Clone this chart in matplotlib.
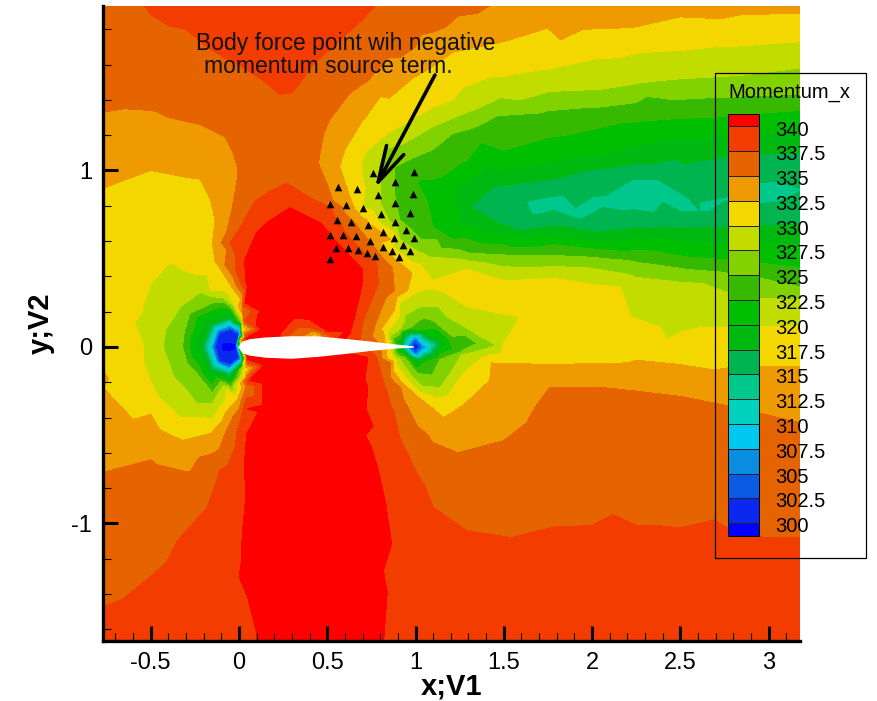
import numpy as np
import matplotlib
matplotlib.use("Agg")
import matplotlib.pyplot as plt
import matplotlib.tri as mtri
from matplotlib.colors import ListedColormap, BoundaryNorm
from matplotlib.patches import Rectangle
from matplotlib.ticker import MultipleLocator

plt.rcParams['font.family'] = ['Liberation Sans', 'DejaVu Sans']

# levels and colours of the legend, bottom to top
levels = [300, 302.5, 305, 307.5, 310, 312.5, 315, 317.5, 320, 322.5, 325,
          327.5, 330, 332.5, 335, 337.5, 340]
level_labels = ['300', '302.5', '305', '307.5', '310', '312.5', '315', '317.5', '320',
                '322.5', '325', '327.5', '330', '332.5', '335', '337.5', '340']
band_colors = ['#0000ff', '#0a28f0', '#0a5ae6', '#0a8ce1', '#00c8f0', '#00d2be', '#00c88c',
               '#00b450', '#00b910', '#00be00', '#37b900', '#82d200', '#c3dc00', '#f5d700',
               '#ee9a00', '#e66400', '#f23c00', '#ff0000']

# coarse field
x_grid = [-0.78, -0.5, -0.3, -0.15, -0.05, 0.05, 0.15, 0.3, 0.5, 0.7, 0.85, 1.0, 1.1, 1.25,
          1.5, 1.75, 2.0, 2.25, 2.5, 2.85, 3.2]
y_grid = [1.94, 1.7, 1.5, 1.3, 1.1, 0.9, 0.7, 0.5, 0.35, 0.2, 0.1, 0.04, -0.04, -0.1, -0.2,
          -0.35, -0.5, -0.7, -0.9, -1.1, -1.3, -1.67]

momentum = [
    [336.8, 337.8, 338.5, 338.8, 339.0, 339.0, 339.0, 339.0, 339.0, 338.0, 337.2, 336.8, 336.3, 335.8, 334.6, 334.0, 333.8, 333.6, 333.4, 333.3, 333.2],
    [336.3, 336.5, 336.8, 337.6, 338.0, 338.5, 338.6, 338.6, 337.7, 336.6, 335.5, 335.0, 334.3, 333.0, 332.1, 331.3, 331.0, 330.5, 330.3, 329.9, 329.8],
    [335.6, 335.8, 336.0, 336.4, 336.7, 337.0, 337.5, 337.8, 336.6, 335.2, 333.8, 332.0, 331.3, 330.6, 329.6, 328.8, 328.2, 327.7, 327.2, 326.9, 325.9],
    [334.7, 334.8, 335.2, 335.8, 336.0, 336.3, 336.5, 336.8, 335.3, 332.7, 330.9, 330.0, 328.6, 327.2, 324.8, 324.1, 323.6, 323.0, 322.6, 322.0, 321.5],
    [333.2, 333.0, 333.4, 334.2, 334.9, 335.5, 336.0, 336.6, 334.6, 330.3, 326.8, 325.4, 325.0, 323.9, 322.3, 321.3, 320.4, 319.2, 318.2, 317.6, 317.5],
    [332.5, 331.9, 332.1, 332.9, 334.2, 336.0, 337.0, 337.7, 335.2, 330.4, 326.2, 323.0, 321.8, 319.5, 317.4, 316.3, 316.0, 315.5, 315.4, 315.2, 315.0],
    [331.4, 331.0, 331.4, 332.1, 335.0, 338.0, 340.0, 341.0, 339.8, 333.8, 327.7, 323.8, 322.4, 320.0, 317.2, 316.6, 316.4, 316.4, 316.6, 316.9, 317.3],
    [330.8, 330.7, 331.3, 332.1, 335.3, 339.8, 341.0, 341.5, 341.0, 340.3, 335.0, 329.2, 327.3, 326.0, 326.0, 325.8, 325.0, 324.4, 322.6, 322.1, 321.5],
    [331.0, 330.0, 328.6, 330.5, 332.3, 340.4, 341.5, 341.5, 341.5, 340.1, 335.5, 330.7, 330.5, 330.8, 330.9, 330.5, 330.1, 328.8, 328.0, 326.4, 324.8],
    [331.0, 329.8, 326.0, 323.4, 325.5, 340.5, 341.5, 341.8, 341.5, 338.2, 332.3, 326.8, 326.4, 329.0, 330.3, 330.5, 330.3, 329.5, 328.8, 328.6, 328.4],
    [331.4, 329.5, 324.8, 319.0, 306.0, 340.5, 342.0, 341.0, 337.0, 337.8, 329.5, 324.0, 323.8, 326.5, 329.0, 329.0, 329.2, 330.6, 329.6, 330.2, 330.2],
    [331.6, 329.1, 323.0, 312.0, 300.5, 340.5, 341.0, 339.0, 335.5, 337.0, 328.0, 308.0, 321.5, 324.0, 327.2, 330.1, 329.9, 331.0, 331.0, 331.0, 330.6],
    [332.0, 329.2, 323.5, 313.0, 300.5, 340.0, 340.5, 340.5, 341.0, 340.6, 332.0, 305.0, 319.0, 328.5, 331.2, 331.9, 331.6, 331.9, 331.8, 331.5, 331.3],
    [332.4, 329.6, 325.6, 319.5, 306.0, 339.0, 341.0, 341.0, 341.0, 340.5, 334.5, 320.0, 323.5, 329.8, 332.7, 332.6, 332.6, 332.6, 332.5, 332.4, 332.3],
    [333.0, 330.0, 327.0, 323.8, 324.0, 339.5, 341.0, 341.0, 341.0, 340.5, 336.7, 329.0, 327.0, 330.4, 333.0, 334.9, 334.8, 334.7, 334.3, 333.8, 333.2],
    [333.8, 332.2, 329.5, 329.0, 333.0, 340.2, 341.0, 341.0, 341.0, 340.3, 338.0, 334.0, 332.5, 332.4, 333.9, 335.5, 335.6, 335.6, 335.4, 335.0, 334.4],
    [335.0, 333.6, 332.8, 334.2, 336.0, 340.3, 341.0, 341.0, 341.0, 340.2, 339.0, 335.7, 334.6, 334.2, 334.8, 336.0, 336.2, 336.4, 336.1, 335.8, 335.3],
    [335.2, 335.6, 335.2, 337.0, 338.3, 340.2, 341.0, 341.0, 341.0, 340.6, 339.6, 337.5, 336.5, 335.8, 335.6, 336.4, 336.6, 336.5, 336.5, 336.2, 336.0],
    [336.3, 336.8, 337.0, 337.8, 339.0, 340.2, 341.0, 341.0, 341.0, 340.8, 339.9, 338.7, 337.5, 336.9, 336.7, 336.9, 337.0, 337.0, 337.0, 336.8, 336.6],
    [336.9, 336.9, 337.7, 338.6, 339.5, 340.3, 341.0, 341.0, 341.0, 340.8, 340.1, 339.0, 338.4, 337.9, 337.7, 337.7, 337.9, 337.9, 337.8, 337.6, 337.6],
    [337.2, 337.5, 338.5, 339.3, 339.7, 340.3, 341.0, 341.0, 341.0, 340.9, 339.8, 339.0, 338.8, 338.6, 338.6, 338.7, 338.7, 338.8, 338.7, 338.6, 338.5],
    [338.0, 338.8, 339.0, 339.3, 339.5, 339.7, 340.3, 341.0, 341.0, 340.6, 339.8, 339.4, 339.2, 339.0, 339.0, 339.0, 339.0, 339.0, 339.0, 339.0, 339.0],
]

# points read along the band edges, value = the level of that edge
edge_340 = [(.29, .79), (.10, .65), (.03, .49), (.035, .25), (.04, .05), (.53, .62), (.70, .44), (.70, .36), (.65, .15), (.63, .08),
            (.05, -.07), (.06, -.19), (.045, -.35), (.03, -.66), (.02, -1.04), (.05, -1.42), (.10, -1.62),
            (.73, -.06), (.76, -.45), (.83, -.88), (.84, -1.39), (.82, -1.66),
            (.23, .07), (.40, .155), (.50, .09), (.60, .085)]
edge_3375 = [(-.54, 1.94), (-.18, 1.70), (.23, 1.43), (.53, 1.70), (.78, 1.94),
             (.27, .93), (.02, .70), (-.05, .59), (-.02, .44), (.03, .15),
             (.52, .79), (.78, .48), (.79, .36), (.70, .14),
             (-.77, -1.47), (-.66, -1.43), (-.41, -1.22), (-.18, -.91), (.01, -.41), (.045, -.19),
             (.78, -.06), (.91, -.51), (1.10, -.91), (1.29, -1.04), (1.54, -1.08), (1.78, -1.02),
             (2.12, -.95), (2.69, -.98), (3.18, -1.08),
             (.28, .06), (.40, .11), (.52, .07)]
edge_335 = [(1.43, 1.94), (1.35, 1.89), (1.03, 1.77), (.91, 1.64), (.63, 1.44), (.48, 1.21), (.45, 1.04),
            (.53, .83), (.73, .61), (.87, .45), (.88, .32), (.77, .12),
            (-.77, 1.33), (-.65, 1.35), (-.22, 1.26), (-.08, 1.19), (-.01, 1.02), (-.01, .95), (-.04, .78), (-.07, .65), (-.07, .55), (.02, .21),
            (-.77, -.71), (-.50, -.78), (-.28, -.71), (-.07, -.47), (.04, -.23),
            (.86, -.09), (1.01, -.45), (1.24, -.60), (1.50, -.53), (1.76, -.23), (2.06, -.23), (2.50, -.28), (3.18, -.43),
            (.36, .06), (.41, .09), (.47, .06)]
edge_3325 = [(3.18, 1.89), (2.73, 1.86), (2.23, 1.81), (1.95, 1.80), (1.82, 1.74), (1.50, 1.73), (1.21, 1.67),
             (1.10, 1.59), (.80, 1.42), (.60, 1.12), (.57, 1.02), (.65, .79), (.86, .61), (.98, .42), (.88, .21), (.82, .08),
             (-.77, .90), (-.50, 1.00), (-.22, .95), (-.16, .83), (-.15, .59), (.01, .27), (.01, .04),
             (-.77, -.23), (-.60, -.41), (-.32, -.53), (-.16, -.49), (-.01, -.30), (.035, -.17),
             (.84, -.07), (1.01, -.28), (1.16, -.40), (1.27, -.33), (1.42, -.19), (1.43, -.09),
             (1.75, -.10), (2.20, -.09), (2.69, -.13), (3.18, -.11),
             (.41, .06), (.44, .07)]
edge_330 = [(3.18, 1.73), (2.69, 1.70), (2.16, 1.64), (1.78, 1.58), (1.42, 1.53), (1.21, 1.40), (1.10, 1.36), (.84, 1.21),
            (.69, 1.02), (.70, .79), (.87, .57), (.98, .48), (1.29, .44), (1.78, .39), (2.16, .34), (2.22, .17),
            (2.39, .11), (2.42, .04), (2.61, .11), (3.18, .12),
            (.84, .08), (.91, .25), (1.03, .32), (1.16, .31), (1.29, .23), (1.48, .19), (1.59, .17), (2.01, .15),
            (2.01, .02), (1.78, .05), (1.50, .02), (1.27, -.06), (1.27, -.15), (1.18, -.28), (1.03, -.26), (.87, -.06),
            (-.54, 0), (-.50, .36), (-.39, .48), (-.16, .32), (-.03, .25), (.02, .10),
            (-.54, -.09), (-.46, -.28), (-.33, -.40), (-.22, -.40), (-.07, -.24), (.03, -.13)]
edge_3275 = [(3.18, 1.58), (2.69, 1.53), (2.39, 1.51), (2.05, 1.46), (1.59, 1.40), (1.37, 1.36), (1.10, 1.25), (.82, 1.12),
             (.79, 1.02), (.80, .93), (.80, .82), (.91, .61), (1.08, .51), (1.37, .48), (1.97, .45), (2.63, .36), (3.18, .27),
             (.91, .10), (1.03, .23), (1.18, .17), (1.29, .11), (1.35, .07), (1.46, .01), (1.33, -.03), (1.21, -.13),
             (1.14, -.23), (1.03, -.22), (.91, -.07),
             (-.43, 0), (-.33, .23), (-.22, .31), (-.09, .28), (.02, .14),
             (-.37, -.17), (-.24, -.32), (-.15, -.32), (.02, -.12)]
edge_325 = [(3.18, 1.43), (2.31, 1.42), (2.05, 1.36), (1.46, 1.31), (1.21, 1.21), (1.10, 1.12), (.88, 1.02), (.88, .87),
            (.91, .72), (1.03, .61), (1.12, .61), (1.31, .53), (1.97, .51), (2.54, .44), (3.18, .34),
            (.97, .11), (1.10, .15), (1.21, .06), (1.35, .02), (1.25, -.03), (1.14, -.07), (1.01, -.15), (.94, -.06),
            (-.32, 0), (-.28, .19), (-.15, .25), (.01, .14),
            (-.24, -.15), (-.15, -.26), (-.05, -.23), (.02, -.09)]
edge_3225 = [(3.18, 1.34), (2.69, 1.30), (2.16, 1.27), (1.37, 1.16), (1.03, .95), (1.01, .93), (1.10, .68), (1.21, .61),
             (1.78, .58), (2.54, .51), (3.18, .45), (1.05, .10), (1.27, .025), (1.05, -.09)]
edge_3175 = [(1.31, .79), (1.44, .91), (1.97, 1.00), (2.35, 1.04), (3.18, 1.10), (1.59, .66), (2.01, .65), (2.69, .68), (3.18, .70),
             (-.21, 0), (-.16, .13), (-.05, .17), (.01, .13), (-.16, -.13), (-.05, -.17), (.015, -.10),
             (.92, 0), (1.0, .08), (1.14, .02), (1.0, -.07)]
edge_315 = [(1.75, .85), (1.84, .86), (1.91, .79), (2.08, .86), (2.23, .95), (2.37, .95), (2.40, .82), (2.54, .85),
            (2.61, .82), (2.76, .85), (3.18, .90),
            (1.66, .75), (1.91, .73), (2.06, .79), (2.23, .78), (2.35, .76), (2.61, .77), (2.76, .83), (3.18, .88)]
edge_310 = [(-.165, 0), (-.13, .105), (-.05, .135), (.008, .10), (-.13, -.10), (-.05, -.135), (.01, -.08)]
edge_305 = [(.96, 0), (1.0, .045), (1.04, 0), (1.0, -.04)]
edge_3025 = [(-.135, 0), (-.11, .08), (-.05, .10), (0, .07), (-.11, -.08), (-.05, -.10), (.002, -.06)]
inner_314 = [(1.70, .79), (1.80, .82), (1.92, .76), (2.0, .80), (2.15, .82), (2.30, .90), (2.38, .85), (2.50, .81),
             (2.65, .80), (2.80, .84), (3.0, .87), (3.17, .89)]
inner_299 = [(-.05, 0), (-.09, 0), (-.02, 0), (1.0, .005)]
inner_331 = [(.42, .058)]

edges = [(340, edge_340), (337.5, edge_3375), (335, edge_335), (332.5, edge_3325), (330, edge_330),
         (327.5, edge_3275), (325, edge_325), (322.5, edge_3225), (317.5, edge_3175), (315, edge_315),
         (310, edge_310), (305, edge_305), (302.5, edge_3025), (314, inner_314), (299, inner_299), (331, inner_331)]

# airfoil outline
airfoil_x = [0, 0.02, 0.06, 0.15, 0.3, 0.45, 0.6, 0.75, 0.9, 0.99,
             0.9, 0.75, 0.6, 0.45, 0.3, 0.15, 0.06, 0.02, 0]
airfoil_y = [0, 0.026, 0.04, 0.05, 0.057, 0.056, 0.042, 0.026, 0.009, 0,
             -0.004, -0.018, -0.036, -0.052, -0.063, -0.057, -0.045, -0.03, 0]

# body force points
points_x = [.761, .993, .561, .670, .884, .786, .984, .516, .604, .704, .884, .803, .969,
            .557, .635, .884, .729, .814, .948, .516, .587, .661, .744, .878, .993, .551,
            .619, .676, .818, .927, .723, .771, .865, .969, .907, .516]
points_y = [.984, .992, .908, .897, .935, .861, .867, .808, .805, .788, .814, .752, .757,
            .720, .710, .710, .689, .653, .663, .636, .636, .627, .601, .616, .616, .563,
            .559, .550, .568, .578, .531, .516, .544, .542, .510, .500]


def build_field():
    # edge points plus the coarse grid nodes that are not right next to an edge point
    known = {}
    for val, pts in edges:
        for p in pts:
            known[p] = val
    edge_xy = np.array(list(known.keys()))
    for i, yv in enumerate(y_grid):
        for j, xv in enumerate(x_grid):
            on_border = i in (0, len(y_grid) - 1) or j in (0, len(x_grid) - 1)
            near = np.min(np.hypot(edge_xy[:, 0] - xv, edge_xy[:, 1] - yv))
            if on_border or near > 0.07:
                known[(xv, yv)] = momentum[i][j]
    xy = np.array(list(known.keys()))
    return xy[:, 0], xy[:, 1], np.array(list(known.values()))


W, H = 877, 701
fig = plt.figure(figsize=(W / 100, H / 100), dpi=100)
ax = fig.add_axes([103 / W, (H - 641) / H, (800 - 103) / W, (641 - 6) / H])

bounds = [290] + levels + [350]
cmap = ListedColormap(band_colors)
norm = BoundaryNorm(bounds, cmap.N)
fx, fy, fz = build_field()
ax.tricontourf(mtri.Triangulation(fx, fy), fz, levels=bounds, cmap=cmap, norm=norm)
ax.fill(airfoil_x, airfoil_y, color='white', zorder=3)
ax.scatter(points_x, points_y, marker='^', s=30, color='black', linewidths=0, zorder=4)

ax.set_xlim(-0.7705, 3.178)
ax.set_ylim(-1.666, 1.932)
ax.spines['top'].set_visible(False)
ax.spines['right'].set_visible(False)
ax.spines['left'].set_linewidth(2.4)
ax.spines['bottom'].set_linewidth(2.4)
ax.xaxis.set_minor_locator(MultipleLocator(0.1))
ax.yaxis.set_minor_locator(MultipleLocator(0.2))
ax.set_xticks([-0.5, 0, 0.5, 1, 1.5, 2, 2.5, 3])
ax.set_xticklabels(['-0.5', '0', '0.5', '1', '1.5', '2', '2.5', '3'])
ax.set_yticks([-1, 0, 1])
ax.set_yticklabels(['-1', '0', '1'])
ax.tick_params(which='major', direction='in', length=11, width=2.2, labelsize=17, pad=8)
ax.tick_params(which='minor', direction='in', length=6, width=0.8)
ax.set_xlabel('x;V1', fontsize=21, fontweight='bold', labelpad=-1)
ax.set_ylabel('y;V2', fontsize=21, fontweight='bold', labelpad=12)

# annotation
ax.text(-0.244, 1.722, 'Body force point wih negative', fontsize=16.5, va='center', color='#111111', zorder=6)
ax.text(-0.198, 1.592, 'momentum source term.', fontsize=16.5, va='center', color='#111111', zorder=6)
ax.annotate('', xy=(0.77, 0.9), xytext=(1.11, 1.541), zorder=6,
            arrowprops=dict(arrowstyle='->,head_length=2.6,head_width=0.7', lw=2.6, color='black',
                            shrinkA=0, shrinkB=0))

# legend
fig.add_artist(Rectangle((715 / W, (H - 558) / H), 151 / W, 485 / H, transform=fig.transFigure,
                         fill=False, edgecolor='black', linewidth=0.9, zorder=10))
fig.text(728 / W, 1 - 93 / H, 'Momentum_x', fontsize=14.5, va='center', ha='left', zorder=11)
leg_edges = [298.75] + levels + [341.3]
leg = fig.add_axes([727.5 / W, (H - 535.5) / H, 31.5 / W, 422 / H], zorder=11)
leg.pcolormesh([0, 1], leg_edges, np.arange(len(band_colors)).reshape(-1, 1), cmap=cmap,
               edgecolors='#222222', linewidth=0.7)
leg.set_xlim(0, 1)
leg.set_ylim(298.75, 341.3)
leg.set_xticks([])
leg.set_yticks([])
for spine in leg.spines.values():
    spine.set_linewidth(0.7)
for lev, lab in zip(levels, level_labels):
    leg.annotate(lab, (1, lev), xycoords=('axes fraction', 'data'), xytext=(11.5, -2.6),
                 textcoords='offset points', fontsize=14.5, va='center', ha='left',
                 annotation_clip=False)

fig.savefig('out.png', dpi=100)
